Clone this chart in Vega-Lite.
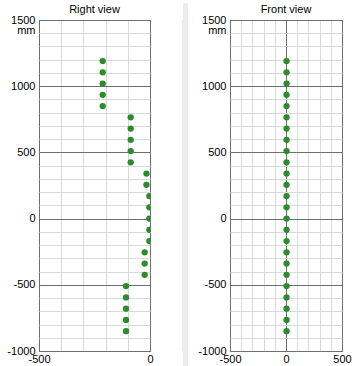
{
  "$schema": "https://vega.github.io/schema/vega-lite/v6.json",
  "padding": {"left": 6, "top": 0, "right": 0, "bottom": 0},
  "background": "white",
  "config": {
    "font": "Liberation Sans",
    "view": {"stroke": "#5a5a5a", "strokeWidth": 1},
    "axis": {"ticks": false, "domain": false, "labelFontSize": 11, "labelColor": "#000000", "labelFont": "Liberation Sans", "labelFlush": false, "labelOverlap": false, "gridWidth": 1, "gridOpacity": 1},
    "axisX": {"labelPadding": 2},
    "axisY": {"labelPadding": 4},
    "title": {"fontSize": 11, "fontWeight": "normal", "offset": -1, "frame": "group", "color": "#000000", "font": "Liberation Sans"}
  },
  "datasets": {
    "side": [
      {"x": -213, "y": 1190}, {"x": -213, "y": 1105}, {"x": -213, "y": 1020}, {"x": -213, "y": 935}, {"x": -213, "y": 850},
      {"x": -87, "y": 765}, {"x": -87, "y": 680}, {"x": -87, "y": 595}, {"x": -87, "y": 510}, {"x": -87, "y": 425},
      {"x": -16, "y": 340}, {"x": -16, "y": 255},
      {"x": -3, "y": 170}, {"x": -3, "y": 85}, {"x": -3, "y": 0}, {"x": -3, "y": -85}, {"x": -3, "y": -170},
      {"x": -24, "y": -255}, {"x": -24, "y": -340}, {"x": -24, "y": -425},
      {"x": -108, "y": -510}, {"x": -108, "y": -595}, {"x": -108, "y": -680}, {"x": -108, "y": -765}, {"x": -108, "y": -850}
    ],
    "front": [
      {"x": 5, "y": 1190}, {"x": 5, "y": 1105}, {"x": 5, "y": 1020}, {"x": 5, "y": 935}, {"x": 5, "y": 850},
      {"x": 5, "y": 765}, {"x": 5, "y": 680}, {"x": 5, "y": 595}, {"x": 5, "y": 510}, {"x": 5, "y": 425},
      {"x": 5, "y": 340}, {"x": 5, "y": 255},
      {"x": 5, "y": 170}, {"x": 5, "y": 85}, {"x": 5, "y": 0}, {"x": 5, "y": -85}, {"x": 5, "y": -170},
      {"x": 5, "y": -255}, {"x": 5, "y": -340}, {"x": 5, "y": -425},
      {"x": 5, "y": -510}, {"x": 5, "y": -595}, {"x": 5, "y": -680}, {"x": 5, "y": -765}, {"x": 5, "y": -850}
    ]
  },
  "spacing": 28,
  "hconcat": [
    {
      "title": "Right view",
      "width": 111,
      "height": 331,
      "data": {"name": "side"},
      "mark": {"type": "circle", "size": 40, "color": "#2a8c2a", "opacity": 1, "clip": true},
      "encoding": {
        "x": {"field": "x", "type": "quantitative", "scale": {"domain": [-500, 0], "nice": false, "zero": false},
          "axis": {"title": null, "values": [-500, -400, -300, -200, -100, 0],
            "labelExpr": "datum.value % 500 === 0 ? '' + datum.value : ''",
            "gridColor": {"condition": {"test": "datum.value % 500 === 0", "value": "#6e6e6e"}, "value": "#d9d9d9"}}},
        "y": {"field": "y", "type": "quantitative", "scale": {"domain": [-1000, 1500], "nice": false, "zero": false},
          "axis": {"title": "mm", "titleAngle": 0, "titleAlign": "right", "titleBaseline": "alphabetic", "titleX": -4, "titleY": 13, "titleFontSize": 11, "titleFontWeight": "normal", "titleColor": "#000000",
            "values": [-1000, -900, -800, -700, -600, -500, -400, -300, -200, -100, 0, 100, 200, 300, 400, 500, 600, 700, 800, 900, 1000, 1100, 1200, 1300, 1400, 1500],
            "labelExpr": "datum.value % 500 === 0 ? '' + datum.value : ''",
            "gridColor": {"condition": {"test": "datum.value % 500 === 0", "value": "#6e6e6e"}, "value": "#d9d9d9"}}}
      }
    },
    {
      "spacing": 9,
      "hconcat": [
        {
          "width": 5,
          "height": 331,
          "view": {"fill": "#ebebeb", "stroke": null},
          "data": {"values": [{"v": 0.5}]},
          "mark": {"type": "text", "text": ""},
          "encoding": {
            "x": {"field": "v", "type": "quantitative", "scale": {"domain": [0, 1], "nice": false, "zero": false},
              "axis": {"title": null, "values": [0.5], "labels": false, "grid": false, "domain": false, "ticks": true, "tickSize": -366, "tickWidth": 5, "tickColor": "#ebebeb", "tickCap": "butt", "offset": 18}}
          }
        },
        {
          "title": "Front view",
          "width": 112,
          "height": 331,
          "data": {"name": "front"},
          "mark": {"type": "circle", "size": 40, "color": "#2a8c2a", "opacity": 1, "clip": true},
          "encoding": {
            "x": {"field": "x", "type": "quantitative", "scale": {"domain": [-500, 500], "nice": false, "zero": false},
              "axis": {"title": null, "values": [-500, -400, -300, -200, -100, 0, 100, 200, 300, 400, 500],
                "labelExpr": "datum.value % 500 === 0 ? '' + datum.value : ''",
                "gridColor": {"condition": {"test": "datum.value % 500 === 0", "value": "#6e6e6e"}, "value": "#d9d9d9"}}},
            "y": {"field": "y", "type": "quantitative", "scale": {"domain": [-1000, 1500], "nice": false, "zero": false},
              "axis": {"title": "mm", "titleAngle": 0, "titleAlign": "right", "titleBaseline": "alphabetic", "titleX": -4, "titleY": 13, "titleFontSize": 11, "titleFontWeight": "normal", "titleColor": "#000000",
                "values": [-1000, -900, -800, -700, -600, -500, -400, -300, -200, -100, 0, 100, 200, 300, 400, 500, 600, 700, 800, 900, 1000, 1100, 1200, 1300, 1400, 1500],
                "labelExpr": "datum.value % 500 === 0 ? '' + datum.value : ''",
                "gridColor": {"condition": {"test": "datum.value % 500 === 0", "value": "#6e6e6e"}, "value": "#d9d9d9"}}}
          }
        }
      ]
    }
  ]
}
